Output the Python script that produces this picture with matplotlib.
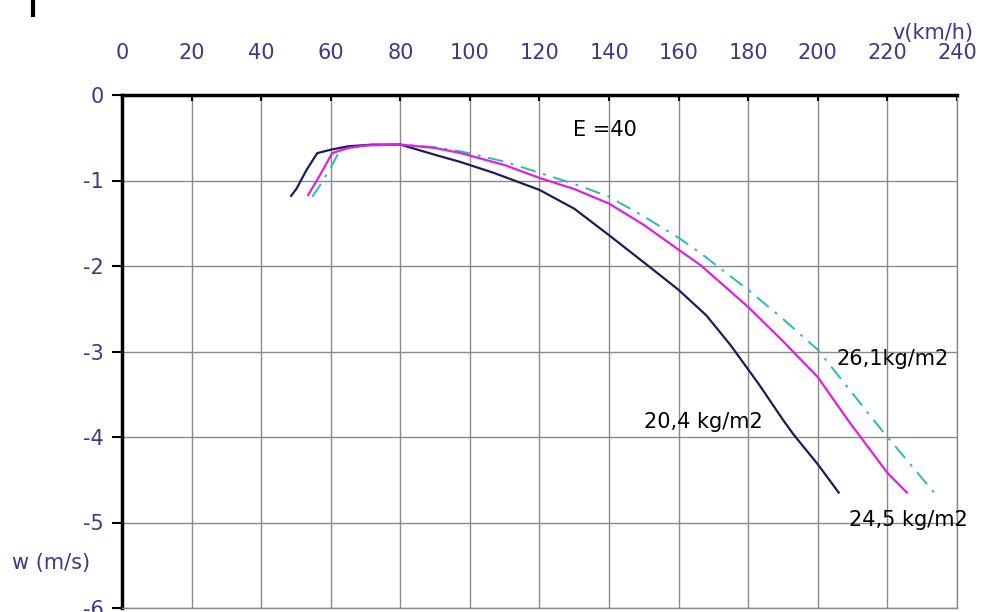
import matplotlib
matplotlib.use("Agg")
import matplotlib.pyplot as plt
from matplotlib.lines import Line2D

# ---- data ----
v_204 = [48.6, 50.1, 53, 56.1, 60, 65, 72, 80, 90, 97, 106.8, 120, 130, 140, 151, 160, 168, 175, 183, 190, 193, 200, 206]
w_204 = [-1.18, -1.10, -0.88, -0.68, -0.64, -0.60, -0.58, -0.58, -0.70, -0.78, -0.91, -1.11, -1.33, -1.64, -1.99, -2.28, -2.58, -2.93, -3.38, -3.80, -3.97, -4.32, -4.65]

v_245 = [53.5, 56, 58.5, 60.4, 65, 70, 80, 90, 97.4, 110, 120, 130, 140, 150, 160, 166.3, 180, 190, 200, 208.6, 220, 225.6]
w_245 = [-1.17, -1.0, -0.82, -0.68, -0.62, -0.59, -0.58, -0.62, -0.68, -0.82, -0.97, -1.10, -1.27, -1.52, -1.81, -1.99, -2.48, -2.88, -3.30, -3.80, -4.42, -4.65]

v_261 = [54.7, 57, 60, 62.7, 68, 75, 80, 90, 97.4, 110, 120, 130, 140, 150, 160, 166.3, 180, 190, 200, 216, 219, 233.4]
w_261 = [-1.19, -1.05, -0.85, -0.64, -0.60, -0.58, -0.58, -0.61, -0.66, -0.78, -0.91, -1.04, -1.19, -1.42, -1.67, -1.85, -2.28, -2.62, -2.98, -3.80, -3.95, -4.65]

x_ticks = [0, 20, 40, 60, 80, 100, 120, 140, 160, 180, 200, 220, 240]
y_ticks = [0, -1, -2, -3, -4, -5, -6]

labels = ["20,4 kg/m2", "24,5 kg/m2", "26,1kg/m2"]

# ---- figure ----
plt.rcParams['font.family'] = ['DejaVu Sans']
fig = plt.figure(figsize=(9.87, 6.12), dpi=100)
W, H = 987, 612
ax = fig.add_axes([122 / W, 1 - 608 / H, (957 - 122) / W, (608 - 95) / H])

tick_col = "#3a3a8a"
grid_col = "#8a8a8a"

ax.set_xlim(0, 240)
ax.set_ylim(-6, 0)
ax.set_xticks(x_ticks)
ax.set_yticks(y_ticks)
ax.set_xticklabels([str(t) for t in x_ticks])
ax.set_yticklabels([str(t) for t in y_ticks])
ax.xaxis.tick_top()
ax.tick_params(axis='x', direction='in', length=4, width=1.5, color='black',
               labelsize=15, labelcolor=tick_col, pad=23)
ax.tick_params(axis='y', direction='out', length=7, width=1.5, color='black',
               labelsize=15, labelcolor=tick_col, pad=6)
ax.grid(True, color=grid_col, linewidth=1)
ax.set_axisbelow(True)

for s in ['top', 'left']:
    ax.spines[s].set_color('black')
    ax.spines[s].set_linewidth(2.5)
for s in ['right', 'bottom']:
    ax.spines[s].set_color(grid_col)
    ax.spines[s].set_linewidth(1)

ax.plot(v_204, w_204, color="#1c1c5a", linewidth=1.6, zorder=3)
ax.plot(v_245, w_245, color="#e020e0", linewidth=1.6, zorder=3)
ax.plot(v_261, w_261, color="#2fb8b8", linewidth=1.4, linestyle=(0, (8, 4, 1.5, 4)), zorder=2.5)

ax.text(129.5, -0.41, "E =40", fontsize=15, color='black', va='center', ha='left')
ax.text(150, -3.82, labels[0], fontsize=15, color='black', va='center', ha='left')
ax.text(209, -4.97, labels[1], fontsize=15, color='black', va='center', ha='left')
ax.text(205.5, -3.09, labels[2], fontsize=15, color='black', va='center', ha='left')

fig.text(973 / W, 1 - 33 / H, "v(km/h)", fontsize=15, color=tick_col, ha='right', va='center')
fig.text(12 / W, 1 - 563 / H, "w (m/s)", fontsize=15, color=tick_col, ha='left', va='center')

# small black mark at top-left of the original image
fig.add_artist(Line2D([33 / W, 33 / W], [1.0, 1 - 15 / H], color='black', linewidth=3,
                      transform=fig.transFigure))

fig.savefig("out.png", dpi=100)
